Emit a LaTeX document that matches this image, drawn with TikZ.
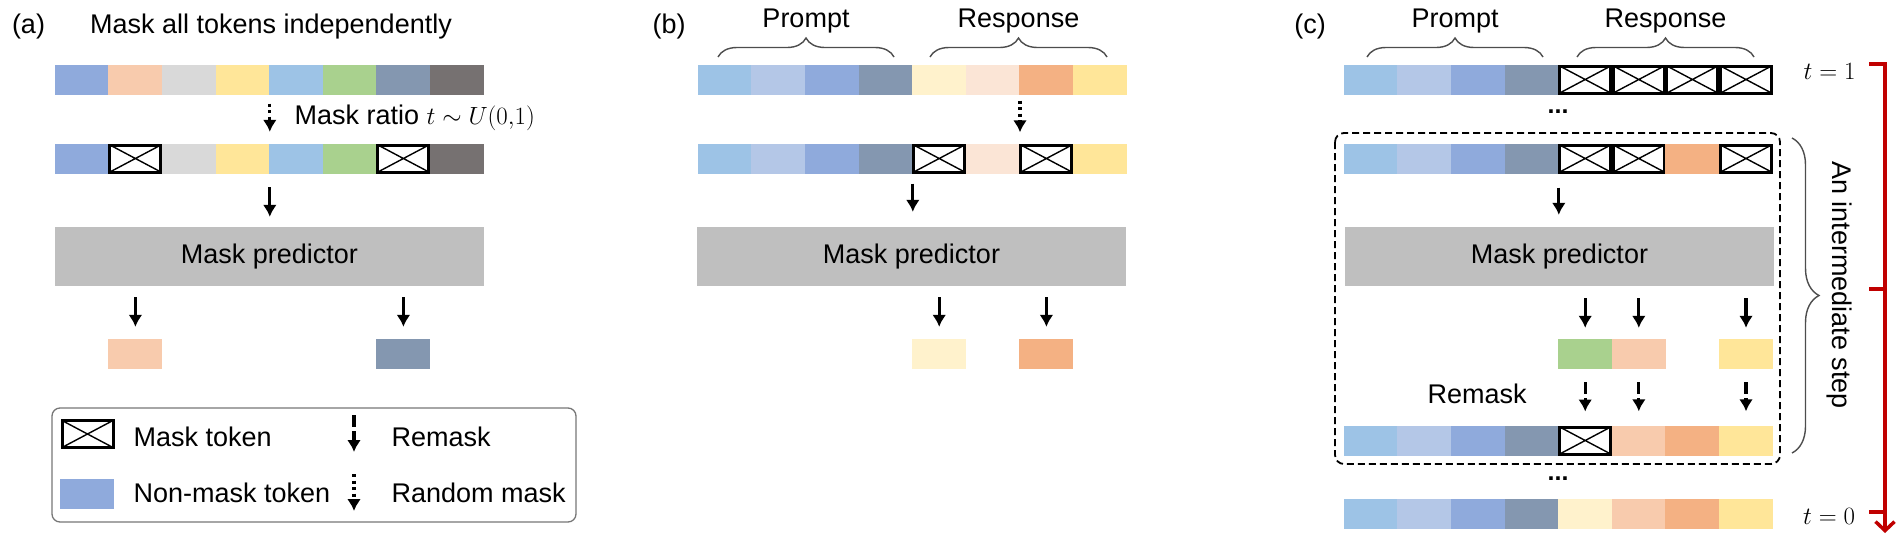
\documentclass[tikz,border=0pt]{standalone}
\usepackage{fontspec}
\setmainfont{Liberation Sans}
\usepackage{tikz}
\usetikzlibrary{positioning}
\usetikzlibrary{calc}
\usetikzlibrary{arrows.meta}
\usetikzlibrary{decorations.pathreplacing}

\definecolor{cBlue}{HTML}{8FAADC}
\definecolor{cPeach}{HTML}{F8CBAD}
\definecolor{cGray}{HTML}{D9D9D9}
\definecolor{cYellow}{HTML}{FFE699}
\definecolor{cSky}{HTML}{9DC3E6}
\definecolor{cGreen}{HTML}{A9D18E}
\definecolor{cSlate}{HTML}{8497B0}
\definecolor{cDark}{HTML}{767171}
\definecolor{cLav}{HTML}{B4C7E7}
\definecolor{cCream}{HTML}{FFF2CC}
\definecolor{cBlush}{HTML}{FBE5D6}
\definecolor{cOrange}{HTML}{F4B183}
\definecolor{cPred}{HTML}{BFBFBF}
\definecolor{cRed}{HTML}{C00000}
\definecolor{cBrace}{HTML}{4D4D4D}
\definecolor{cFrame}{HTML}{767676}

\tikzset{cell/.style={rectangle,inner sep=0pt,minimum width=54pt,minimum height=30pt},
tBlue/.style={fill=cBlue},tPeach/.style={fill=cPeach},tGray/.style={fill=cGray},
tYellow/.style={fill=cYellow},tSky/.style={fill=cSky},tGreen/.style={fill=cGreen},
tSlate/.style={fill=cSlate},tDark/.style={fill=cDark},tLav/.style={fill=cLav},
tCream/.style={fill=cCream},tBlush/.style={fill=cBlush},tOrange/.style={fill=cOrange},
tMask/.style={fill=white,draw=black,line width=3pt,minimum width=51pt,minimum height=27pt,
 path picture={\draw[line width=1.4pt] (path picture bounding box.north west) -- (path picture bounding box.south east)
 (path picture bounding box.south west) -- (path picture bounding box.north east);}},
predictor/.style={rectangle,fill=cPred,minimum width=429pt,minimum height=59pt},
arr/.style={line width=3.2pt,-{Latex[length=12pt,width=14pt]}},
randarr/.style={arr,dash pattern=on 3pt off 3.5pt},
remaskarr/.style={arr,dash pattern=on 12pt off 4pt},
brc/.style={decorate,decoration={brace,amplitude=#1},draw=cBrace,line width=1.4pt},
timeline/.style={draw=cRed,line width=3.5pt},
legendbox/.style={draw=cFrame,line width=1.3pt,rounded corners=8pt,minimum width=524pt,minimum height=114pt}}

% one row of tokens: prefix, left x, middle y, styles
\newcommand{\tokrow}[4]{\foreach \s [count=\i] in {#4} {\node[cell,\s] (#1\i) at ({#2+53.6*\i-26.8},#3) {};}}

\begin{document}
\begin{tikzpicture}[x=1pt,y=-1pt,font=\fontsize{27}{32}\selectfont]
\useasboundingbox (0,0) rectangle (1902,544);
\coordinate (outRow) at (0,354);

% (a)
\node[anchor=base] (labA) at (28.5,33) {(a)};
\node[anchor=base] (titleA) at (271,33) {Mask all tokens independently};
\tokrow{aA}{55}{79.5}{tBlue,tPeach,tGray,tYellow,tSky,tGreen,tSlate,tDark}
\tokrow{aB}{55}{158.5}{tBlue,tMask,tGray,tYellow,tSky,tGreen,tMask,tDark}
\draw[randarr,shorten <=9pt,shorten >=11.5pt] (aA4.south east) -- (aB4.north east);
\node[anchor=base west] (ratio) at (291,124) {Mask ratio $t\sim U(0{,}1)$};
\node[predictor] (pa) at (269.5,256.5) {Mask predictor};
\draw[arr,shorten <=13.5pt,shorten >=10pt] (aB4.south east) -- (pa.north -| aB4.south east);
\node[cell,tPeach] (aO2) at (aB2 |- outRow) {};
\node[cell,tSlate] (aO7) at (aB7 |- outRow) {};
\foreach \k in {2,7}
\draw[arr,shorten <=11pt,shorten >=12pt] (pa.south -| aO\k) -- (aO\k);

% legend
\node[legendbox] (legend) at (314,465) {};
\node[cell,tMask] (lgMask) at (87.5,434) {};
\node[anchor=base west] (lgMaskTxt) at (130,446) {Mask token};
\node[cell,tBlue] (lgTok) at (87,493.5) {};
\node[anchor=base west] (lgTokTxt) at (130,502) {Non-mask token};
\coordinate (lgR1) at (354,415);
\coordinate (lgR2) at (354,452);
\draw[remaskarr] (lgR1) -- (lgR2);
\node[anchor=base west] (lgRTxt) at (388,446) {Remask};
\coordinate (lgD1) at (354,474);
\coordinate (lgD2) at (354,511);
\draw[randarr] (lgD1) -- (lgD2);
\node[anchor=base west] (lgDTxt) at (388,502) {Random mask};

% (b)
\node[anchor=base] (labB) at (669,33) {(b)};
\draw[brc=19pt] (718,57) -- (894,57);
\draw[brc=19pt] (930,57) -- (1107,57);
\node[anchor=base] (promptB) at (806,27) {Prompt};
\node[anchor=base] (respB) at (1018.5,27) {Response};
\tokrow{bA}{698}{79.5}{tSky,tLav,tBlue,tSlate,tCream,tBlush,tOrange,tYellow}
\tokrow{bB}{698}{158.5}{tSky,tLav,tBlue,tSlate,tMask,tBlush,tMask,tYellow}
\draw[randarr,shorten <=6pt,shorten >=11pt] (bA6.south east) -- (bB6.north east);
\node[predictor] (pb) at (911.5,256.5) {Mask predictor};
\draw[arr,shorten <=10pt,shorten >=15pt] (bB4.south east) -- (pb.north -| bB4.south east);
\node[cell,tCream] (bO5) at (bB5 |- outRow) {};
\node[cell,tOrange] (bO7) at (bB7 |- outRow) {};
\foreach \k in {5,7}
\draw[arr,shorten <=11pt,shorten >=12pt] (pb.south -| bO\k) -- (bO\k);

% (c)
\node[anchor=base] (labC) at (1310,33) {(c)};
\draw[brc=19pt] (1367,57) -- (1543,57);
\draw[brc=19pt] (1577,57) -- (1754,57);
\node[anchor=base] (promptC) at (1455,27) {Prompt};
\node[anchor=base] (respC) at (1665.5,27) {Response};
\tokrow{cA}{1344}{79.5}{tSky,tLav,tBlue,tSlate,tMask,tMask,tMask,tMask}
\node[font=\fontsize{25}{30}\selectfont\bfseries] (dotsA) at (1558,112) {...};
\draw[dashed,line width=1.8pt,dash pattern=on 7pt off 4pt,rounded corners=9pt] (1335,133) rectangle (1780,464);
\tokrow{cB}{1344}{158.5}{tSky,tLav,tBlue,tSlate,tMask,tMask,tOrange,tMask}
\node[predictor] (pc) at (1559.5,256.5) {Mask predictor};
\draw[arr,shorten <=14pt,shorten >=12pt] (cB4.south east) -- (pc.north -| cB4.south east);
\node[cell,tGreen] (cO5) at (cB5 |- outRow) {};
\node[cell,tPeach] (cO6) at (cB6 |- outRow) {};
\node[cell,tYellow] (cO8) at (cB8 |- outRow) {};
\tokrow{cC}{1344}{440.5}{tSky,tLav,tBlue,tSlate,tMask,tPeach,tOrange,tYellow}
\foreach \k in {5,6,8} {
\draw[arr,shorten <=12pt,shorten >=11pt] (pc.south -| cO\k) -- (cO\k);
\draw[remaskarr,shorten <=13pt,shorten >=14pt] (cO\k) -- (cC\k);
}
\node[anchor=base west] (remaskC) at (1424,403) {Remask};
\node[font=\fontsize{25}{30}\selectfont\bfseries] (dotsB) at (1558,479) {...};
\tokrow{cD}{1344}{514}{tSky,tLav,tBlue,tSlate,tCream,tPeach,tOrange,tYellow}
\node[anchor=base] (tOne) at (1829.5,79) {$t=1$};
\node[anchor=base] (tZero) at (1829,524) {$t=0$};
\draw[brc=27pt] (1792,138) -- (1792,453);
\node[rotate=-90] (stepTxt) at (1839,285) {An intermediate step};

% time axis
\coordinate (tTop) at (1885,64);
\coordinate (tMid) at (1885,289);
\coordinate (tLow) at (1885,512);
\coordinate (tEnd) at (1885,533);
\draw[timeline,-{Straight Barb[length=9pt,width=19pt]}] ([xshift=-16pt]tTop) -- (tTop) -- (tEnd);
\draw[timeline] ([xshift=-16pt]tMid) -- (tMid);
\draw[timeline] ([xshift=-16pt]tLow) -- (tLow);
\end{tikzpicture}
\end{document}
